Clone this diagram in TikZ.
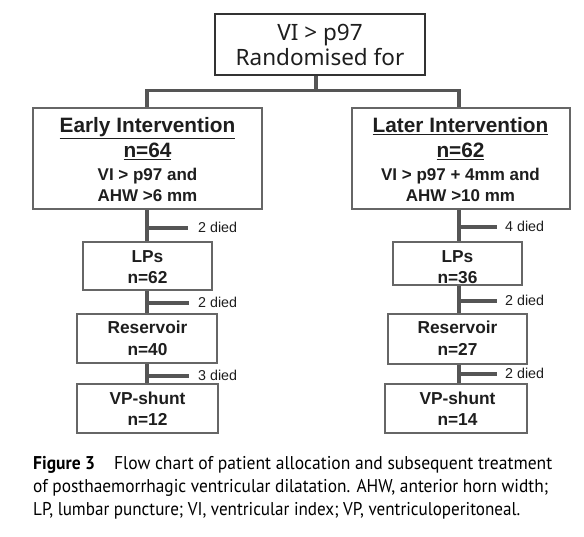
\documentclass[tikz,border=0pt]{standalone}
\usepackage{fontspec}
\usepackage{graphicx}
\setmainfont{Liberation Sans}
\newfontfamily\segoefont{Noto Sans}
\newfontfamily\capfont{PT Sans}
\newcommand{\ulb}[1]{\vtop{\hbox{#1}\kern1.8pt\hrule height 1.3pt}}
\definecolor{linegray}{HTML}{555555}
\definecolor{boxgray}{HTML}{666666}
\definecolor{txt}{HTML}{1E1E1E}
\tikzset{
  topbox/.style={draw=black!80, line width=2.2pt, inner sep=0pt},
  bigbox/.style={draw=boxgray, line width=1.3pt, inner sep=0pt},
  smallbox/.style={draw=boxgray, line width=1.3pt, inner sep=0pt},
  conn/.style={draw=linegray, line width=3.2pt},
  toptxt/.style={inner sep=0pt, anchor=base, text=txt, font=\segoefont\fontsize{22.5}{26}\selectfont},
  headtxt/.style={inner sep=0pt, anchor=base, text=txt, font=\bfseries\fontsize{20.8}{24}\selectfont},
  crittxt/.style={inner sep=0pt, anchor=base, text=txt, font=\bfseries\fontsize{17}{20}\selectfont},
  stagetxt/.style={inner sep=0pt, anchor=base, text=txt, font=\bfseries\fontsize{17.3}{20}\selectfont},
  diedtxt/.style={inner sep=0pt, anchor=base west, text=txt, font=\fontsize{14.3}{17}\selectfont},
  captxt/.style={inner sep=0pt, anchor=base west, text=black, font=\capfont\fontsize{18.5}{22}\selectfont}
}
\begin{document}
\begin{tikzpicture}[x=1pt,y=-1pt]
\fill[white] (0,0) rectangle (584,536);
\useasboundingbox (0,0) rectangle (584,536);

% boxes
\node[topbox, minimum width=210pt, minimum height=61pt] (top) at (320,44.5) {};
\node[bigbox, minimum width=229pt, minimum height=101pt] (early) at (147.5,158.5) {};
\node[bigbox, minimum width=218pt, minimum height=101pt] (later) at (461,158.5) {};
\node[smallbox, minimum width=129pt, minimum height=48pt] (lLP) at (147.5,266) {};
\node[smallbox, minimum width=140pt, minimum height=49pt] (lRes) at (147,338.5) {};
\node[smallbox, minimum width=141pt, minimum height=49pt] (lVP) at (147.5,408.5) {};
\node[smallbox, minimum width=129pt, minimum height=43pt] (rLP) at (457.5,263.5) {};
\node[smallbox, minimum width=139pt, minimum height=50pt] (rRes) at (457.5,339) {};
\node[smallbox, minimum width=142pt, minimum height=49pt] (rVP) at (456,408.5) {};

% texts in boxes
\node[toptxt] (t1) at (320,40) {VI > p97};
\node[toptxt] (t2) at (320,65) {Randomised for};

\node[headtxt] (e1) at (147.5,132) {\ulb{Early Intervention}};
\node[headtxt] (e2) at (147.5,157) {\ulb{n=64}};
\node[crittxt] (e3) at (147.5,180) {VI > p97 and};
\node[crittxt] (e4) at (147.5,201) {AHW >6 mm};

\node[headtxt] (l1) at (460.5,132) {\ulb{Later Intervention}};
\node[headtxt] (l2) at (460.5,157) {\ulb{n=62}};
\node[crittxt] (l3) at (460.5,180) {VI > p97 + 4mm and};
\node[crittxt] (l4) at (460.5,201) {AHW >10 mm};

\node[stagetxt] (a1) at (147.5,262) {LPs};
\node[stagetxt] (a2) at (147.5,283) {n=62};
\node[stagetxt] (a3) at (147.5,333) {Reservoir};
\node[stagetxt] (a4) at (147.5,355) {n=40};
\node[stagetxt] (a5) at (147.5,404) {VP-shunt};
\node[stagetxt] (a6) at (147.5,425) {n=12};

\node[stagetxt] (b1) at (457.5,262) {LPs};
\node[stagetxt] (b2) at (457.5,283) {n=36};
\node[stagetxt] (b3) at (457.5,333) {Reservoir};
\node[stagetxt] (b4) at (457.5,355) {n=27};
\node[stagetxt] (b5) at (457.5,404) {VP-shunt};
\node[stagetxt] (b6) at (457.5,425) {n=14};

% top connectors
\coordinate (jT) at (316,90.5);
\coordinate (lx) at (147,0);
\coordinate (rx) at (459,0);
\draw[conn] (top.south -| jT) -- (jT);
\draw[conn] (early.north -| lx) -- (lx |- jT) -- (rx |- jT) -- (later.north -| rx);

% left chain
\draw[conn] (early.south -| lx) -- (lLP.north -| lx);
\draw[conn] (lLP.south -| lx) -- (lRes.north -| lx);
\draw[conn] (lRes.south -| lx) -- (lVP.north -| lx);
\coordinate (lb1) at (147,228);
\coordinate (lb2) at (147,303);
\coordinate (lb3) at (147,376);
\draw[conn] (lb1) -- ++(41,0);
\draw[conn] (lb2) -- ++(42,0);
\draw[conn] (lb3) -- ++(42,0);
\node[diedtxt] (d1) at (198,232) {2 died};
\node[diedtxt] (d2) at (198,307.5) {2 died};
\node[diedtxt] (d3) at (198,380.5) {3 died};

% right chain
\draw[conn] (later.south -| rx) -- (rLP.north -| rx);
\draw[conn] (rLP.south -| rx) -- (rRes.north -| rx);
\draw[conn] (rRes.south -| rx) -- (rVP.north -| rx);
\coordinate (rb1) at (459,227);
\coordinate (rb2) at (459,301);
\coordinate (rb3) at (459,374);
\draw[conn] (rb1) -- ++(38,0);
\draw[conn] (rb2) -- ++(38,0);
\draw[conn] (rb3) -- ++(38,0);
\node[diedtxt] (d4) at (505,231.5) {4 died};
\node[diedtxt] (d5) at (505,305.5) {2 died};
\node[diedtxt] (d6) at (505,378) {2 died};

% caption
\node[captxt] (c1) at (33,469) {\resizebox{519pt}{\height}{\textbf{Figure 3}\hspace{20pt}Flow chart of patient allocation and subsequent treatment}};
\node[captxt] (c2) at (33,492) {\resizebox{515pt}{\height}{of posthaemorrhagic ventricular dilatation. AHW, anterior horn width;}};
\node[captxt] (c3) at (33,515) {\resizebox{487pt}{\height}{LP, lumbar puncture; VI, ventricular index; VP, ventriculoperitoneal.}};
\end{tikzpicture}
\end{document}
